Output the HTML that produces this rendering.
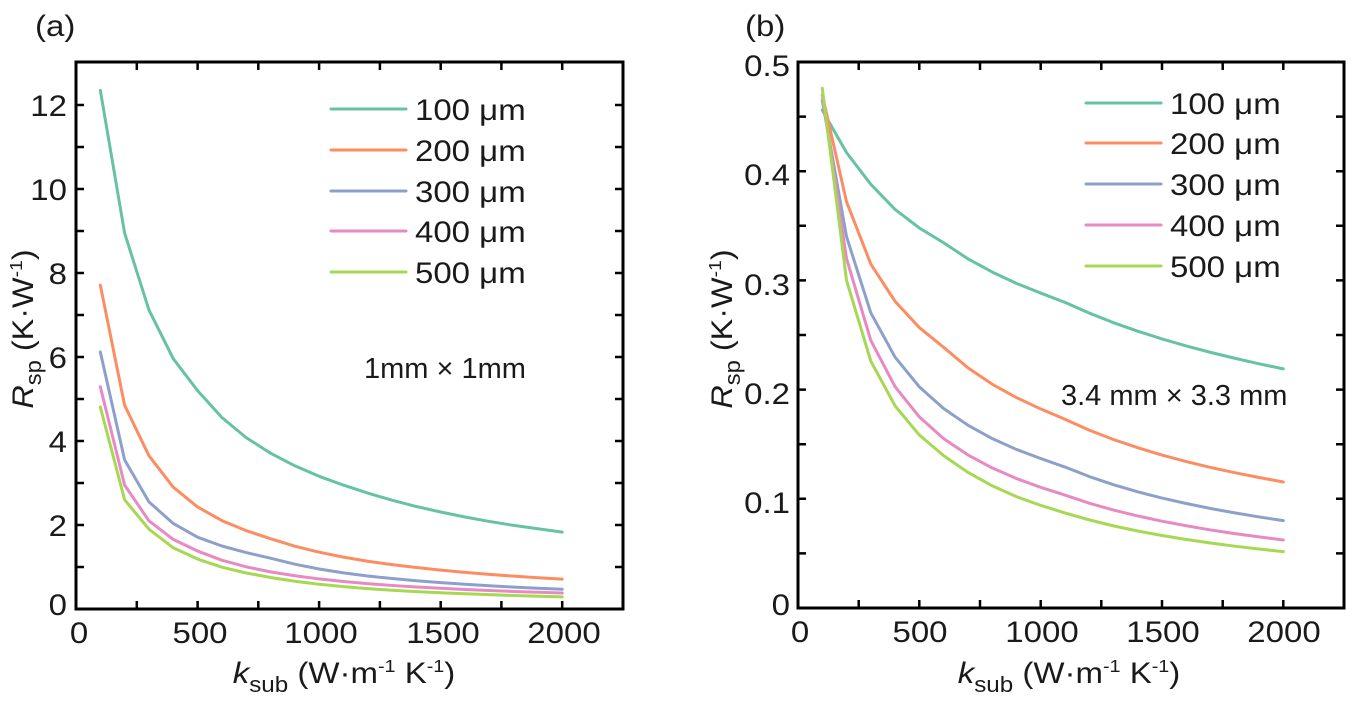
<!DOCTYPE html>
<html><head><meta charset="utf-8"><style>
html,body{margin:0;padding:0;background:#fff;}
svg{display:block;}
text{font-family:"Liberation Sans",Arial,sans-serif;fill:#1a1a1a;}
</style></head><body>
<svg width="1362" height="704" viewBox="0 0 1362 704" xmlns="http://www.w3.org/2000/svg">
<rect width="1362" height="704" fill="#fff"/>

<!-- ===================== Panel (a) ===================== -->
<text transform="translate(35,36) scale(1.1,1)" font-size="30">(a)</text>

<g fill="none" stroke-width="3" stroke-linejoin="round" stroke-linecap="round" transform="translate(76,609) scale(0.24311,-42)">
<polyline vector-effect="non-scaling-stroke" stroke="#66c2a5" points="100,12.35 200,8.95 300,7.12 400,5.96 500,5.2 600,4.56 700,4.08 800,3.71 900,3.41 1000,3.16 1100,2.95 1200,2.76 1300,2.59 1400,2.44 1500,2.31 1600,2.19 1700,2.085 1800,1.99 1900,1.91 2000,1.83"/>
<polyline vector-effect="non-scaling-stroke" stroke="#fc8d62" points="100,7.71 200,4.85 300,3.65 400,2.9 500,2.43 600,2.105 700,1.865 800,1.673 900,1.496 1000,1.352 1100,1.235 1200,1.137 1300,1.057 1400,0.987 1500,0.926 1600,0.872 1700,0.825 1800,0.782 1900,0.744 2000,0.71"/>
<polyline vector-effect="non-scaling-stroke" stroke="#8da0cb" points="100,6.12 200,3.55 300,2.55 400,2.037 500,1.71 600,1.5 700,1.343 800,1.21 900,1.067 1000,0.953 1100,0.861 1200,0.786 1300,0.725 1400,0.673 1500,0.628 1600,0.588 1700,0.553 1800,0.522 1900,0.495 2000,0.47"/>
<polyline vector-effect="non-scaling-stroke" stroke="#e78ac3" points="100,5.29 200,2.95 300,2.1 400,1.657 500,1.38 600,1.162 700,1.004 800,0.884 900,0.791 1000,0.716 1100,0.654 1200,0.603 1300,0.561 1400,0.525 1500,0.493 1600,0.465 1700,0.44 1800,0.418 1900,0.398 2000,0.38"/>
<polyline vector-effect="non-scaling-stroke" stroke="#a6d854" points="100,4.81 200,2.6 300,1.9 400,1.458 500,1.19 600,0.996 700,0.857 800,0.751 900,0.661 1000,0.59 1100,0.532 1200,0.485 1300,0.447 1400,0.415 1500,0.387 1600,0.363 1700,0.341 1800,0.322 1900,0.305 2000,0.29"/>
</g>

<rect x="76" y="62" width="547" height="547" fill="none" stroke="#000" stroke-width="3"/>
<path stroke="#000" stroke-width="2.5" fill="none" d="
M136.8,609v-8 M197.6,609v-8 M258.3,609v-8 M319.1,609v-8 M379.9,609v-8 M440.7,609v-8 M501.4,609v-8 M562.2,609v-8
M136.8,62v8 M197.6,62v8 M258.3,62v8 M319.1,62v8 M379.9,62v8 M440.7,62v8 M501.4,62v8 M562.2,62v8
M76,567h8 M76,525h8 M76,483h8 M76,441h8 M76,399h8 M76,357h8 M76,315h8 M76,273h8 M76,231h8 M76,189h8 M76,147h8 M76,105h8
M623,567h-8 M623,525h-8 M623,483h-8 M623,441h-8 M623,399h-8 M623,357h-8 M623,315h-8 M623,273h-8 M623,231h-8 M623,189h-8 M623,147h-8 M623,105h-8"/>

<g font-size="30" text-anchor="end">
<text transform="translate(67,615) scale(1.1,1)">0</text>
<text transform="translate(67,536) scale(1.1,1)">2</text>
<text transform="translate(67,452) scale(1.1,1)">4</text>
<text transform="translate(67,368) scale(1.1,1)">6</text>
<text transform="translate(67,284) scale(1.1,1)">8</text>
<text transform="translate(67,200) scale(1.1,1)">10</text>
<text transform="translate(67,116) scale(1.1,1)">12</text>
</g>
<g font-size="30" text-anchor="middle">
<text transform="translate(79,643) scale(1.1,1)">0</text>
<text transform="translate(200,643) scale(1.1,1)">500</text>
<text transform="translate(321,643) scale(1.1,1)">1000</text>
<text transform="translate(443,643) scale(1.1,1)">1500</text>
<text transform="translate(564,643) scale(1.1,1)">2000</text>
</g>

<text transform="translate(344,683) scale(1.1,1)" font-size="30" text-anchor="middle"><tspan font-style="italic">k</tspan><tspan font-size="22" dy="9">sub</tspan><tspan dy="-9"> (W·m</tspan><tspan font-size="18" dy="-11">-1</tspan><tspan dy="11"> K</tspan><tspan font-size="18" dy="-11">-1</tspan><tspan dy="11">)</tspan></text>

<text transform="translate(33,329) rotate(-90) scale(1.08,1)" font-size="30" text-anchor="middle"><tspan font-style="italic">R</tspan><tspan font-size="22" dy="8">sp</tspan><tspan dy="-8"> (K·W</tspan><tspan font-size="18" dy="-11">-1</tspan><tspan dy="11">)</tspan></text>

<g stroke-width="3" stroke-linecap="round">
<line x1="331" y1="109" x2="406" y2="109" stroke="#66c2a5"/>
<line x1="331" y1="150" x2="406" y2="150" stroke="#fc8d62"/>
<line x1="331" y1="191" x2="406" y2="191" stroke="#8da0cb"/>
<line x1="331" y1="231" x2="406" y2="231" stroke="#e78ac3"/>
<line x1="331" y1="272" x2="406" y2="272" stroke="#a6d854"/>
</g>
<g font-size="30">
<text transform="translate(415,120) scale(1.1,1)">100 μm</text>
<text transform="translate(415,161) scale(1.1,1)">200 μm</text>
<text transform="translate(415,202) scale(1.1,1)">300 μm</text>
<text transform="translate(415,242) scale(1.1,1)">400 μm</text>
<text transform="translate(415,283) scale(1.1,1)">500 μm</text>
</g>
<text x="364" y="378" font-size="29">1mm × 1mm</text>

<!-- ===================== Panel (b) ===================== -->
<text transform="translate(745,36) scale(1.1,1)" font-size="30">(b)</text>

<g fill="none" stroke-width="3" stroke-linejoin="round" stroke-linecap="round" transform="translate(798,608) scale(0.24267,-1092)">
<polyline vector-effect="non-scaling-stroke" stroke="#66c2a5" points="100,0.456 200,0.417 300,0.388 400,0.365 500,0.348 600,0.3345 700,0.3198 800,0.3077 900,0.2973 1000,0.2884 1100,0.2799 1200,0.2701 1300,0.2613 1400,0.2535 1500,0.2464 1600,0.24 1700,0.2341 1800,0.2287 1900,0.2236 2000,0.219"/>
<polyline vector-effect="non-scaling-stroke" stroke="#fc8d62" points="100,0.47 200,0.372 300,0.315 400,0.2808 500,0.2568 600,0.2387 700,0.22 800,0.205 900,0.1927 1000,0.1823 1100,0.1728 1200,0.1629 1300,0.1543 1400,0.1468 1500,0.1401 1600,0.1341 1700,0.1287 1800,0.1239 1900,0.1195 2000,0.1154"/>
<polyline vector-effect="non-scaling-stroke" stroke="#8da0cb" points="100,0.465 200,0.34 300,0.2703 400,0.2297 500,0.2025 600,0.1827 700,0.1674 800,0.1552 900,0.1452 1000,0.1369 1100,0.1291 1200,0.1204 1300,0.1129 1400,0.1064 1500,0.1007 1600,0.0957 1700,0.0911 1800,0.0871 1900,0.0834 2000,0.08"/>
<polyline vector-effect="non-scaling-stroke" stroke="#e78ac3" points="100,0.47 200,0.32 300,0.245 400,0.2027 500,0.175 600,0.1551 700,0.1402 800,0.1283 900,0.1186 1000,0.1105 1100,0.1034 1200,0.096 1300,0.0897 1400,0.0843 1500,0.0795 1600,0.0753 1700,0.0715 1800,0.0681 1900,0.0651 2000,0.0623"/>
<polyline vector-effect="non-scaling-stroke" stroke="#a6d854" points="100,0.476 200,0.3 300,0.2261 400,0.1851 500,0.1584 600,0.1395 700,0.1242 800,0.1119 900,0.102 1000,0.094 1100,0.0871 1200,0.0807 1300,0.0752 1400,0.0705 1500,0.0664 1600,0.0627 1700,0.0595 1800,0.0566 1900,0.054 2000,0.0516"/>
</g>

<rect x="798" y="62" width="546" height="546" fill="none" stroke="#000" stroke-width="3"/>
<path stroke="#000" stroke-width="2.5" fill="none" d="
M858.7,608v-8 M919.3,608v-8 M980,608v-8 M1040.7,608v-8 M1101.3,608v-8 M1162,608v-8 M1222.7,608v-8 M1283.3,608v-8
M858.7,62v8 M919.3,62v8 M980,62v8 M1040.7,62v8 M1101.3,62v8 M1162,62v8 M1222.7,62v8 M1283.3,62v8
M798,553.4h8 M798,498.8h8 M798,444.2h8 M798,389.6h8 M798,335h8 M798,280.4h8 M798,225.8h8 M798,171.2h8 M798,116.6h8
M1344,553.4h-8 M1344,498.8h-8 M1344,444.2h-8 M1344,389.6h-8 M1344,335h-8 M1344,280.4h-8 M1344,225.8h-8 M1344,171.2h-8 M1344,116.6h-8"/>

<g font-size="30" text-anchor="end">
<text transform="translate(790,615) scale(1.1,1)">0</text>
<text transform="translate(790,513) scale(1.1,1)">0.1</text>
<text transform="translate(790,404) scale(1.1,1)">0.2</text>
<text transform="translate(790,295) scale(1.1,1)">0.3</text>
<text transform="translate(790,185) scale(1.1,1)">0.4</text>
<text transform="translate(790,76) scale(1.1,1)">0.5</text>
</g>
<g font-size="30" text-anchor="middle">
<text transform="translate(800,642) scale(1.1,1)">0</text>
<text transform="translate(920,642) scale(1.1,1)">500</text>
<text transform="translate(1042,642) scale(1.1,1)">1000</text>
<text transform="translate(1163,642) scale(1.1,1)">1500</text>
<text transform="translate(1284,642) scale(1.1,1)">2000</text>
</g>

<text transform="translate(1069,683) scale(1.1,1)" font-size="30" text-anchor="middle"><tspan font-style="italic">k</tspan><tspan font-size="22" dy="9">sub</tspan><tspan dy="-9"> (W·m</tspan><tspan font-size="18" dy="-11">-1</tspan><tspan dy="11"> K</tspan><tspan font-size="18" dy="-11">-1</tspan><tspan dy="11">)</tspan></text>

<text transform="translate(732,329) rotate(-90) scale(1.08,1)" font-size="30" text-anchor="middle"><tspan font-style="italic">R</tspan><tspan font-size="22" dy="8">sp</tspan><tspan dy="-8"> (K·W</tspan><tspan font-size="18" dy="-11">-1</tspan><tspan dy="11">)</tspan></text>

<g stroke-width="3" stroke-linecap="round">
<line x1="1086" y1="103" x2="1161" y2="103" stroke="#66c2a5"/>
<line x1="1086" y1="143" x2="1161" y2="143" stroke="#fc8d62"/>
<line x1="1086" y1="184" x2="1161" y2="184" stroke="#8da0cb"/>
<line x1="1086" y1="225" x2="1161" y2="225" stroke="#e78ac3"/>
<line x1="1086" y1="266" x2="1161" y2="266" stroke="#a6d854"/>
</g>
<g font-size="30">
<text transform="translate(1170,114) scale(1.1,1)">100 μm</text>
<text transform="translate(1170,154) scale(1.1,1)">200 μm</text>
<text transform="translate(1170,195) scale(1.1,1)">300 μm</text>
<text transform="translate(1170,236) scale(1.1,1)">400 μm</text>
<text transform="translate(1170,277) scale(1.1,1)">500 μm</text>
</g>
<text x="1061" y="405" font-size="29">3.4 mm × 3.3 mm</text>
</svg>
</body></html>
